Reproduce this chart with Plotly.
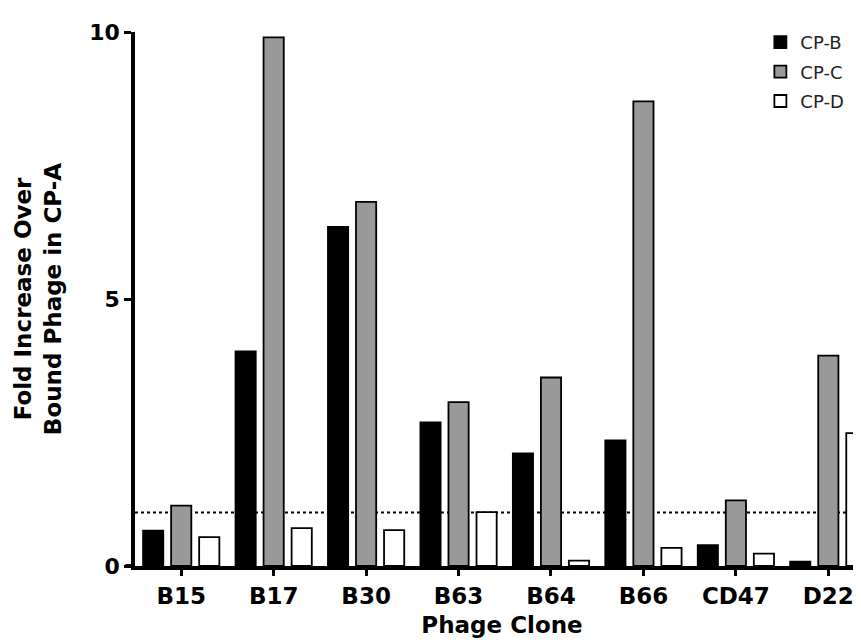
import plotly.graph_objects as go

clones = ["B15", "B17", "B30", "B63", "B64", "B66", "CD47", "D22"]
cp_b = [0.66, 4.02, 6.35, 2.69, 2.11, 2.35, 0.39, 0.08]
cp_c = [1.13, 9.9, 6.82, 3.07, 3.53, 8.7, 1.23, 3.94]
cp_d = [0.54, 0.71, 0.67, 1.01, 0.10, 0.34, 0.23, 2.49]
series_names = ["CP-B", "CP-C", "CP-D"]
series_colors = ["#000000", "#999999", "#ffffff"]
baseline = 1.0

BOLD = "DejaVu Sans, Liberation Sans, Arial, sans-serif"
REG = "DejaVu Sans, Liberation Sans, Arial, sans-serif"

fig = go.Figure()
for name, vals, col in zip(series_names, [cp_b, cp_c, cp_d], series_colors):
    fig.add_trace(go.Bar(
        x=clones, y=vals, name=name, legendgroup=name,
        marker=dict(color=col, line=dict(color="#000000", width=1.8)),
    ))

fig.add_shape(type="line", xref="paper", yref="y", x0=0, x1=1, y0=baseline, y1=baseline,
              line=dict(color="#000000", width=2, dash="dot"), layer="below")
# small extension of x axis line to the left of the y axis
fig.add_shape(type="line", xref="paper", yref="y", x0=-0.013, x1=0, y0=0, y1=0,
              line=dict(color="#000000", width=4))

fig.update_layout(
    width=861, height=642,
    margin=dict(l=127, r=0, t=24, b=84),
    paper_bgcolor="white", plot_bgcolor="white",
    barmode="group", bargap=0.09, bargroupgap=0.28,
    font=dict(family=REG, color="#000000"),
    showlegend=True,
    legend=dict(x=0.852, y=1.015, xanchor="left", yanchor="top",
                font=dict(family=REG, size=18, color="#222222"),
                tracegroupgap=3, bgcolor="rgba(0,0,0,0)"),
    xaxis=dict(
        range=[-0.5, 7.44], showline=True, linecolor="#000000", linewidth=4,
        ticks="outside", ticklen=6, tickwidth=3, tickcolor="#000000",
        tickfont=dict(family=BOLD, size=23, color="#000000", weight="bold"),
        showgrid=False, zeroline=False,
        title=dict(text="<b>Phage Clone</b>", font=dict(family=BOLD, size=23), standoff=10),
    ),
    yaxis=dict(
        range=[0, 10], showline=True, linecolor="#000000", linewidth=3.5,
        tickvals=[0, 5, 10], ticktext=["0", "5", "10"],
        ticks="outside", ticklen=7, tickwidth=2.5, tickcolor="#000000",
        tickfont=dict(family=BOLD, size=22, color="#000000", weight="bold"),
        showgrid=False, zeroline=False,
        title=dict(text="<b>Fold Increase Over<br>Bound Phage in CP-A</b>",
                   font=dict(family=BOLD, size=23), standoff=22),
    ),
)

fig.write_html("out.html")
